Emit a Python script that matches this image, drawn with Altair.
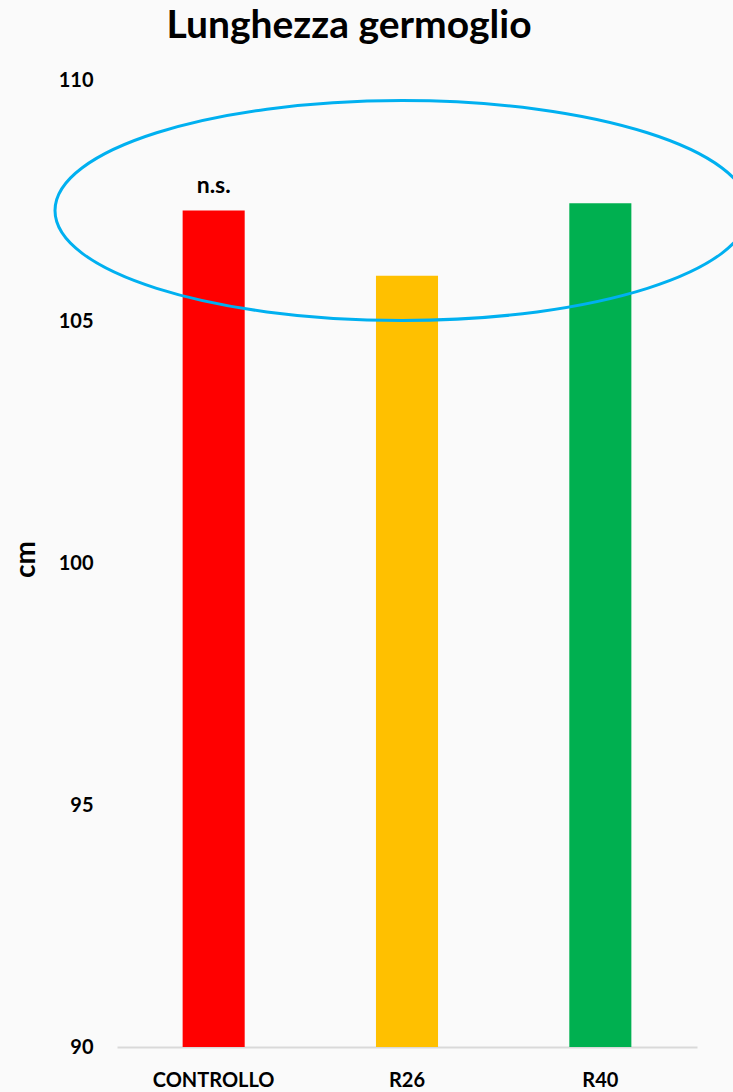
import altair as alt
import pandas as pd

# Shoot length (cm) per treatment
categories = ["CONTROLLO", "R26", "R40"]
values = [107.3, 105.95, 107.45]
colors = ["#FF0000", "#FFC000", "#00B050"]

# Annotation: non-significance label and the ellipse grouping the three bars
note_text = "n.s."
note_category = "CONTROLLO"
ring_category = "R26"
ring_center = 107.3

df = pd.DataFrame({"trattamento": categories, "cm": values})
note_df = pd.DataFrame({"trattamento": [note_category], "cm": [values[0]], "label": [note_text]})
ring_df = pd.DataFrame({"trattamento": [ring_category], "cm": [ring_center]})

FONT = "Lato"

x_enc = alt.X(
    "trattamento:N",
    sort=categories,
    scale=alt.Scale(paddingInner=0.679, paddingOuter=0.3395),
    axis=alt.Axis(
        title=None, labelAngle=0, ticks=False, domain=True,
        domainColor="#D9D9D9", domainWidth=2,
        labelFont=FONT, labelFontSize=20, labelFontWeight="bold",
        labelColor="#000000", labelPadding=23,
    ),
)
y_scale = alt.Scale(domain=[90, 110], zero=False, nice=False)

bars = alt.Chart(df).mark_bar().encode(
    x=x_enc,
    y=alt.Y(
        "cm:Q", scale=y_scale,
        axis=alt.Axis(
            title="cm", values=[90, 95, 100, 105, 110], ticks=False, domain=False,
            grid=False, labelFont=FONT, labelFontSize=20, labelFontWeight="bold",
            labelColor="#000000", labelPadding=24,
            titleFont=FONT, titleFontSize=28, titleFontWeight="bold",
            titleColor="#000000", titleX=-91, titleY=479, titleAngle=-90,
            titleBaseline="middle", titleAlign="center",
        ),
    ),
    y2=alt.datum(90),
    color=alt.Color("trattamento:N", scale=alt.Scale(domain=categories, range=colors), legend=None),
)

note = alt.Chart(note_df).mark_text(
    font=FONT, fontSize=23, fontWeight="bold", color="#000000", dy=-18, baseline="alphabetic"
).encode(
    x=alt.X("trattamento:N", sort=categories),
    y=alt.Y("cm:Q", scale=y_scale),
    text="label:N",
)

# Ellipse outline drawn as a custom symbol path (unit coordinates, width 2)
ry = 0.317
k = 0.5523
ellipse_path = (
    f"M -1 0 C -1 {-k*ry:.4f} {-k:.4f} {-ry} 0 {-ry} "
    f"C {k:.4f} {-ry} 1 {-k*ry:.4f} 1 0 "
    f"C 1 {k*ry:.4f} {k:.4f} {ry} 0 {ry} "
    f"C {-k:.4f} {ry} -1 {k*ry:.4f} -1 0 Z"
)
ring = alt.Chart(ring_df).mark_point(
    shape=ellipse_path, filled=False, stroke="#00B0F0", strokeWidth=3,
    size=694 * 694, opacity=1, xOffset=-5,
).encode(
    x=alt.X("trattamento:N", sort=categories),
    y=alt.Y("cm:Q", scale=y_scale),
)

chart = (
    alt.layer(bars, note, ring)
    .properties(
        width=580, height=967,
        autosize=alt.AutoSizeParams(type="none"),
        padding={"left": 117, "top": 80, "right": 36, "bottom": 45},
        background="#FAFAFA",
        title=alt.TitleParams(
            "Lunghezza germoglio", font=FONT, fontSize=39, fontWeight="bold",
            color="#000000", anchor="middle", dx=-58, offset=24,
        ),
    )
    .configure_view(stroke=None)
)

chart.save("out.html", embed_options={"renderer": "svg", "actions": False})
